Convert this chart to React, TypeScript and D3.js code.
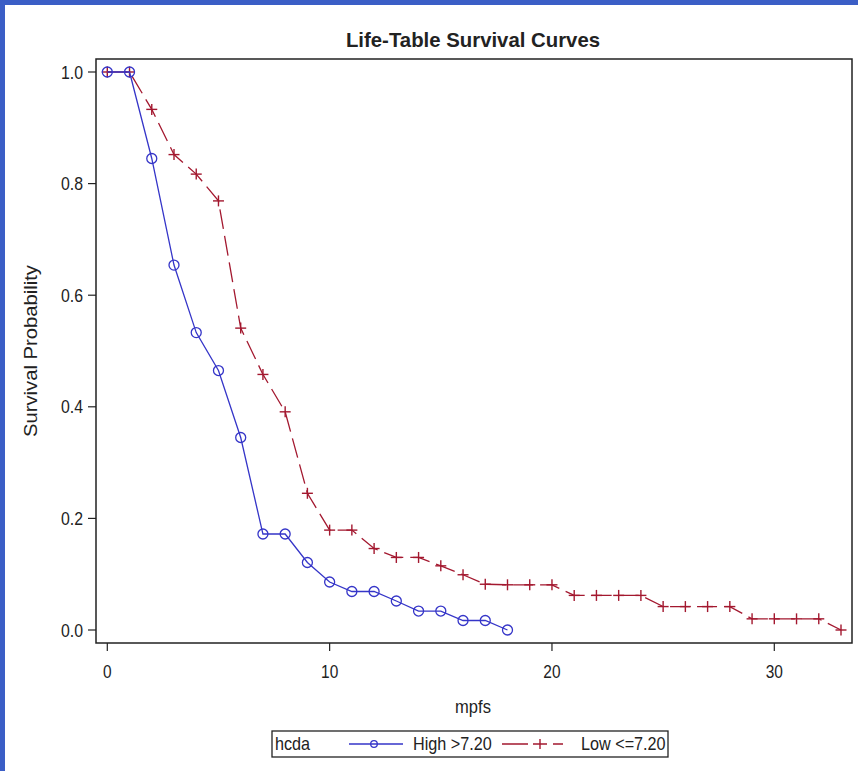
import React from 'react'
import * as d3 from 'd3'

// months (mpfs) and life-table survival estimates
const highTimes = [0, 1, 2, 3, 4, 5, 6, 7, 8, 9, 10, 11, 12, 13, 14, 15, 16, 17, 18]
const highSurv = [1.0, 1.0, 0.845, 0.654, 0.533, 0.465, 0.345, 0.172, 0.172, 0.121, 0.086, 0.069, 0.069, 0.052, 0.034, 0.034, 0.017, 0.017, 0.0]

const lowTimes = [0, 1, 2, 3, 4, 5, 6, 7, 8, 9, 10, 11, 12, 13, 14, 15, 16, 17, 18, 19, 20, 21, 22, 23, 24, 25, 26, 27, 28, 29, 30, 31, 32, 33]
const lowSurv = [1.0, 1.0, 0.933, 0.852, 0.817, 0.769, 0.541, 0.458, 0.391, 0.245, 0.179, 0.179, 0.146, 0.13, 0.13, 0.115, 0.099, 0.082, 0.081, 0.081, 0.081, 0.062, 0.062, 0.062, 0.062, 0.042, 0.042, 0.042, 0.042, 0.02, 0.02, 0.02, 0.02, 0.0]

const xTicks = [0, 10, 20, 30]
const yTicks = [0.0, 0.2, 0.4, 0.6, 0.8, 1.0]

const FONT = "'Liberation Sans', Arial, sans-serif"
const BLUE = '#3535c8'
const RED = '#a3182f'
const INK = '#222'

// SAS uses a narrow sans, so squeeze the glyphs horizontally
function NText(props: { x: number, y: number, size: number, sx?: number, anchor?: string, bold?: boolean, children: any }) {
  const sx = props.sx == null ? 0.88 : props.sx
  return (
    <text transform={`translate(${props.x},${props.y}) scale(${sx},1)`} textAnchor={props.anchor || 'start'}
      fontSize={props.size} fontWeight={props.bold ? 'bold' : 'normal'} fill={INK}>
      {props.children}
    </text>
  )
}

export default function App() {
  const width = 858
  const height = 771
  const frame = { left: 96, right: 852, top: 59, bottom: 643 }

  // axis scales, with a little padding inside the frame
  const x = d3.scaleLinear().domain([0, 30]).range([107.3, 774.3])
  const y = d3.scaleLinear().domain([0, 1]).range([630, 72])

  const highPts: [number, number][] = highTimes.map((t, i) => [t, highSurv[i]])
  const lowPts: [number, number][] = lowTimes.map((t, i) => [t, lowSurv[i]])

  const line = d3.line<[number, number]>().x(d => x(d[0])).y(d => y(d[1]))

  const midX = (frame.left + frame.right) / 2
  const midY = (frame.top + frame.bottom) / 2

  return (
    <svg width={width} height={height} style={{ position: 'absolute', left: 0, top: 0, background: '#fff' }}
      fontFamily={FONT}>
      <rect x={0} y={0} width={width} height={height} fill="#fff" />
      {/* blue window edge */}
      <rect x={0} y={0} width={width} height={5} fill="#3b5ec6" />
      <rect x={0} y={0} width={5} height={height} fill="#3b5ec6" />

      <NText x={midX - 1} y={47} size={21} sx={0.97} anchor="middle" bold>Life-Table Survival Curves</NText>

      {/* y axis */}
      {yTicks.map(t => (
        <g key={'y' + t}>
          <line x1={frame.left - 8} x2={frame.left} y1={y(t)} y2={y(t)} stroke={INK} strokeWidth={1.2} />
          <NText x={frame.left - 13} y={y(t) + 6.5} size={18} anchor="end">{t.toFixed(1)}</NText>
        </g>
      ))}
      <text transform={`translate(37,${midY}) rotate(-90)`} textAnchor="middle" fontSize={19} fill={INK}
        textLength={172} lengthAdjust="spacingAndGlyphs">
        Survival Probability
      </text>

      {/* x axis */}
      {xTicks.map(t => (
        <g key={'x' + t}>
          <line x1={x(t)} x2={x(t)} y1={frame.bottom} y2={frame.bottom + 8} stroke={INK} strokeWidth={1.2} />
          <NText x={x(t)} y={678} size={18} sx={0.86} anchor="middle">{t}</NText>
        </g>
      ))}
      <NText x={midX - 1} y={713} size={18} sx={0.92} anchor="middle">mpfs</NText>

      {/* curves */}
      <path d={line(lowPts) || ''} fill="none" stroke={RED} strokeWidth={1.3} strokeDasharray="20,7" />
      {lowPts.map((p, i) => (
        <g key={'l' + i} stroke={RED} strokeWidth={1.4}>
          <line x1={x(p[0]) - 5.5} x2={x(p[0]) + 5.5} y1={y(p[1])} y2={y(p[1])} />
          <line x1={x(p[0])} x2={x(p[0])} y1={y(p[1]) - 5.5} y2={y(p[1]) + 5.5} />
        </g>
      ))}
      <path d={line(highPts) || ''} fill="none" stroke={BLUE} strokeWidth={1.3} />
      {highPts.map((p, i) => (
        <circle key={'h' + i} cx={x(p[0])} cy={y(p[1])} r={5} fill="none" stroke={BLUE} strokeWidth={1.3} />
      ))}

      {/* plot frame */}
      <rect x={frame.left} y={frame.top} width={frame.right - frame.left} height={frame.bottom - frame.top}
        fill="none" stroke={INK} strokeWidth={1.5} />

      {/* legend */}
      <g>
        <rect x={272} y={731} width={396} height={26} fill="#fff" stroke={INK} strokeWidth={1.3} />
        <NText x={275} y={750} size={18} sx={0.9}>hcda</NText>
        <line x1={349} x2={403} y1={744} y2={744} stroke={BLUE} strokeWidth={1.3} />
        <circle cx={374} cy={744} r={3.3} fill="none" stroke={BLUE} strokeWidth={1.3} />
        <NText x={413} y={750} size={18} sx={0.9}>High &gt;7.20</NText>
        <line x1={502} x2={563} y1={744} y2={744} stroke={RED} strokeWidth={1.3} strokeDasharray="26,5,14,6,20" />
        <line x1={540} x2={540} y1={739} y2={749} stroke={RED} strokeWidth={1.4} />
        <NText x={581} y={750} size={18} sx={0.9}>Low &lt;=7.20</NText>
      </g>
    </svg>
  )
}
